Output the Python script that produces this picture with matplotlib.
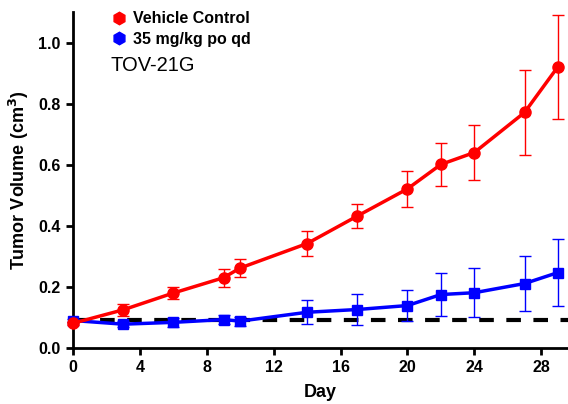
import matplotlib
matplotlib.use("Agg")
import matplotlib.pyplot as plt
from matplotlib.lines import Line2D

plt.rcParams["font.family"] = ["Liberation Sans", "DejaVu Sans"]

days = [0, 3, 6, 9, 10, 14, 17, 20, 22, 24, 27, 29]
vehicle = [0.081, 0.125, 0.180, 0.230, 0.262, 0.342, 0.432, 0.521, 0.601, 0.640, 0.771, 0.921]
vehicle_err = [0.005, 0.02, 0.02, 0.03, 0.03, 0.04, 0.04, 0.06, 0.07, 0.09, 0.139, 0.17]
treated = [0.090, 0.078, 0.084, 0.093, 0.088, 0.117, 0.126, 0.139, 0.175, 0.181, 0.211, 0.247]
treated_err = [0.005, 0.01, 0.015, 0.015, 0.015, 0.04, 0.05, 0.05, 0.07, 0.08, 0.09, 0.11]
baseline = 0.091

RED = "#ff0000"
BLUE = "#0000ff"


def main():
    fig = plt.figure(figsize=(5.68, 4.04), dpi=100)
    ax = fig.add_axes([73 / 568, 56 / 404, 495 / 568, 336 / 404])

    ax.axhline(baseline, color="black", linewidth=3, dashes=(3.5, 3), zorder=1)

    ax.errorbar(days, treated, yerr=treated_err, color=BLUE, marker="s",
                markersize=7.5, linewidth=2.5, elinewidth=1, capsize=4,
                capthick=1, clip_on=False, zorder=3)
    ax.errorbar(days, vehicle, yerr=vehicle_err, color=RED, marker="o",
                markersize=8, linewidth=2.5, elinewidth=1, capsize=4,
                capthick=1, clip_on=False, zorder=4)

    ax.set_xlim(0, 29.6)
    ax.set_ylim(0, 1.10)
    ax.set_xticks(range(0, 29, 4))
    ax.set_yticks([0.0, 0.2, 0.4, 0.6, 0.8, 1.0])
    ax.set_yticklabels(["0.0", "0.2", "0.4", "0.6", "0.8", "1.0"])

    for side in ["top", "right"]:
        ax.spines[side].set_visible(False)
    for side in ["left", "bottom"]:
        ax.spines[side].set_linewidth(2)
    ax.tick_params(width=2, length=5, labelsize=11.5, pad=4)
    for lbl in ax.get_xticklabels() + ax.get_yticklabels():
        lbl.set_fontweight("bold")

    ax.set_xlabel("Day", fontsize=13, fontweight="bold", labelpad=6)
    ax.set_ylabel("Tumor Volume (cm$^{\\mathbf{3}}$)", fontsize=13,
                  fontweight="bold", labelpad=5)

    handles = [
        Line2D([], [], color=RED, marker="h", markersize=9, linestyle="none"),
        Line2D([], [], color=BLUE, marker="h", markersize=9, linestyle="none"),
    ]
    ax.legend(handles, ["Vehicle Control", "35 mg/kg po qd"], loc="upper left",
              bbox_to_anchor=(0.05, 1.045), frameon=False, handlelength=0.8,
              handletextpad=0.5, labelspacing=0.35,
              prop={"weight": "bold", "size": 11.5})

    ax.text(0.075, 0.84, "TOV-21G", transform=ax.transAxes, fontsize=14.5,
            va="center", ha="left")

    fig.savefig("out.png", dpi=100)


if __name__ == "__main__":
    main()
